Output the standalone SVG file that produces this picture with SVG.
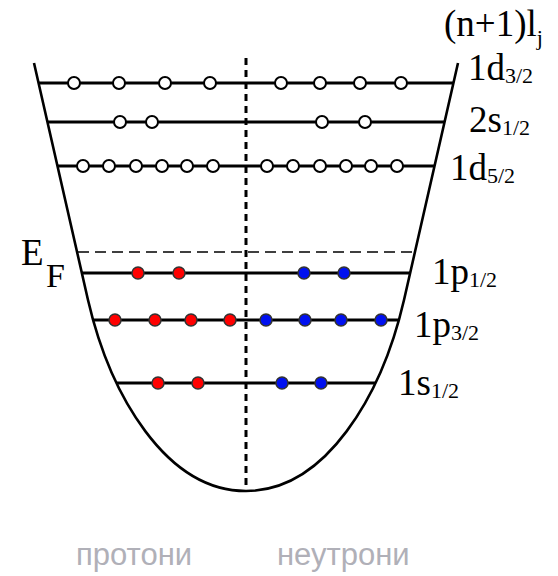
<svg xmlns="http://www.w3.org/2000/svg" width="558" height="576" viewBox="0 0 558 576">
<style>
.lvl{stroke:#000;stroke-width:3;fill:none}
.o{fill:#fff;stroke:#000;stroke-width:2}
.p{fill:#f00;stroke:#333;stroke-width:1.5}
.n{fill:#0010f0;stroke:#333;stroke-width:1.5}
.lbl{font-family:"Liberation Serif","Times New Roman",serif;font-size:37px;fill:#000}
.sub{font-size:22px}
.cap{font-family:"Liberation Sans",Arial,sans-serif;font-size:31px;fill:#b0b0b8}
</style>
<rect width="558" height="576" fill="#fff"/>
<g id="well">
<path d="M34,63 L88,300 C110,395 166,491 246,491 C326,491 382,395 404,300 L458,63" fill="none" stroke="#000" stroke-width="2.6"/>
</g>
<g id="fermi">
<line x1="78" y1="252" x2="414" y2="252" stroke="#000" stroke-width="1.5" stroke-dasharray="11 6"/>
</g>
<g id="lvl-1d32">
<line class="lvl" x1="38.6" y1="83" x2="453.4" y2="83"/>
<circle class="o" cx="74" cy="83" r="6"/><circle class="o" cx="119" cy="83" r="6"/><circle class="o" cx="165" cy="83" r="6"/><circle class="o" cx="210" cy="83" r="6"/>
<circle class="o" cx="281" cy="83" r="6"/><circle class="o" cx="320" cy="83" r="6"/><circle class="o" cx="360" cy="83" r="6"/><circle class="o" cx="401" cy="83" r="6"/>
</g>
<g id="lvl-2s12">
<line class="lvl" x1="47.4" y1="122" x2="444.6" y2="122"/>
<circle class="o" cx="120" cy="122" r="6"/><circle class="o" cx="152" cy="122" r="6"/>
<circle class="o" cx="322" cy="122" r="6"/><circle class="o" cx="365" cy="122" r="6"/>
</g>
<g id="lvl-1d52">
<line class="lvl" x1="57.5" y1="166" x2="434.5" y2="166"/>
<circle class="o" cx="83" cy="166" r="6"/><circle class="o" cx="109" cy="166" r="6"/><circle class="o" cx="136" cy="166" r="6"/><circle class="o" cx="162" cy="166" r="6"/><circle class="o" cx="187" cy="166" r="6"/><circle class="o" cx="213" cy="166" r="6"/>
<circle class="o" cx="267" cy="166" r="6"/><circle class="o" cx="293" cy="166" r="6"/><circle class="o" cx="320" cy="166" r="6"/><circle class="o" cx="346" cy="166" r="6"/><circle class="o" cx="371" cy="166" r="6"/><circle class="o" cx="397" cy="166" r="6"/>
</g>
<g id="lvl-1p12">
<line class="lvl" x1="81.9" y1="273" x2="410.1" y2="273"/>
<circle class="p" cx="138" cy="273" r="6"/><circle class="p" cx="179" cy="273" r="6"/>
<circle class="n" cx="304" cy="273" r="6"/><circle class="n" cx="344" cy="273" r="6"/>
</g>
<g id="lvl-1p32">
<line class="lvl" x1="93" y1="320" x2="399" y2="320"/>
<circle class="p" cx="115" cy="320" r="6"/><circle class="p" cx="155" cy="320" r="6"/><circle class="p" cx="191" cy="320" r="6"/><circle class="p" cx="230" cy="320" r="6"/>
<circle class="n" cx="266" cy="320" r="6"/><circle class="n" cx="305" cy="320" r="6"/><circle class="n" cx="341" cy="320" r="6"/><circle class="n" cx="381" cy="320" r="6"/>
</g>
<g id="lvl-1s12">
<line class="lvl" x1="117" y1="383" x2="375" y2="383"/>
<circle class="p" cx="158" cy="383" r="6"/><circle class="p" cx="198" cy="383" r="6"/>
<circle class="n" cx="282" cy="383" r="6"/><circle class="n" cx="321" cy="383" r="6"/>
</g>
<g id="axis">
<line x1="246" y1="58" x2="246" y2="491" stroke="#000" stroke-width="3" stroke-dasharray="7 5"/>
</g>
<g id="labels">
<text class="lbl" x="444" y="36">(n+1)l<tspan class="sub" dy="9">j</tspan></text>
<text class="lbl" x="468" y="80">1d<tspan class="sub" dy="3">3/2</tspan></text>
<text class="lbl" x="469" y="132">2s<tspan class="sub" dy="3">1/2</tspan></text>
<text class="lbl" x="450" y="180">1d<tspan class="sub" dy="3">5/2</tspan></text>
<text class="lbl" x="432" y="284">1p<tspan class="sub" dy="3">1/2</tspan></text>
<text class="lbl" x="414" y="337">1p<tspan class="sub" dy="3">3/2</tspan></text>
<text class="lbl" x="398" y="395">1s<tspan class="sub" dy="3">1/2</tspan></text>
<text class="lbl" x="21" y="265">E</text>
<text class="lbl" x="46" y="287" style="font-size:34px">F</text>
<text class="cap" x="76" y="565">протони</text>
<text class="cap" x="277" y="565">неутрони</text>
</g>
</svg>
